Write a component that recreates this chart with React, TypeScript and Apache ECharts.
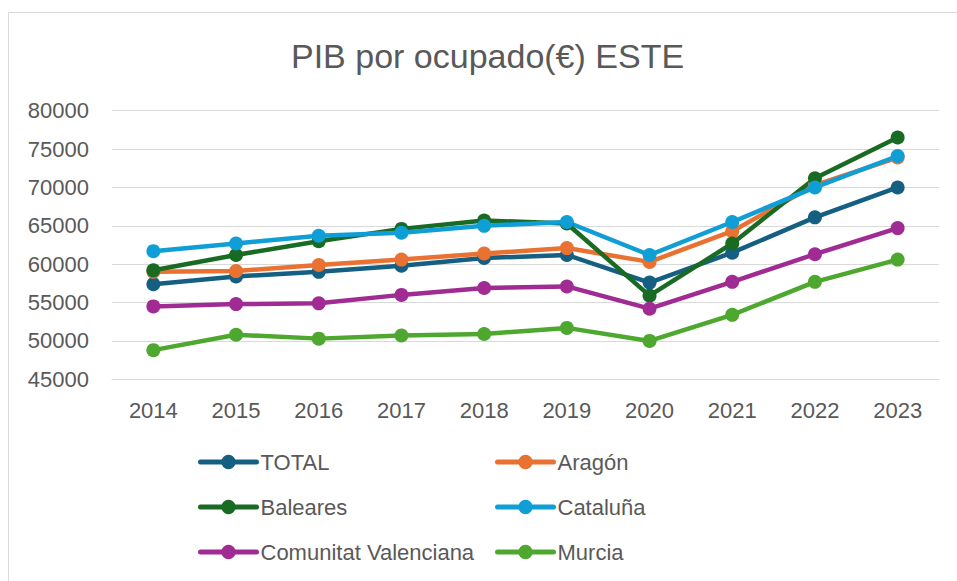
import React, { useEffect, useRef } from "react";
import * as echarts from "echarts";

const years = ["2014", "2015", "2016", "2017", "2018", "2019", "2020", "2021", "2022", "2023"];
const total = [57400, 58400, 59000, 59800, 60800, 61200, 57600, 61500, 66100, 70000];
const aragon = [59000, 59100, 59900, 60600, 61400, 62100, 60300, 64300, 70300, 73900];
const baleares = [59200, 61200, 63000, 64600, 65700, 65300, 55900, 62700, 71200, 76500];
const cataluna = [61700, 62700, 63700, 64100, 65000, 65500, 61200, 65500, 70000, 74100];
const valenciana = [54500, 54800, 54900, 56000, 56900, 57100, 54200, 57700, 61300, 64700];
const murcia = [48800, 50800, 50300, 50700, 50900, 51700, 50000, 53400, 57700, 60600];

const seriesDefs = [
  { name: "TOTAL", data: total, color: "#156082" },
  { name: "Aragón", data: aragon, color: "#E97132" },
  { name: "Baleares", data: baleares, color: "#196B24" },
  { name: "Cataluña", data: cataluna, color: "#0F9ED5" },
  { name: "Comunitat Valenciana", data: valenciana, color: "#A02B93" },
  { name: "Murcia", data: murcia, color: "#4EA72E" },
];

const FONT = "'Liberation Sans', Arial, sans-serif";
const TXT = "#595959";

export default function App() {
  const ref = useRef<HTMLDivElement>(null);
  useEffect(() => {
    if (!ref.current) return;
    const chart = echarts.init(ref.current, null, { renderer: "svg" });
    const legendCommon = {
      orient: "vertical" as const,
      top: 451,
      padding: 0,
      itemWidth: 56,
      itemHeight: 18,
      itemGap: 23,
      lineStyle: { width: 5, cap: "round" },
      textStyle: { fontFamily: FONT, fontSize: 22, color: TXT, padding: [0, 0, 0, -1] },
    };
    chart.setOption({
      animation: false,
      backgroundColor: "#ffffff",
      title: {
        text: "PIB por ocupado(€) ESTE",
        left: 291,
        top: 39,
        padding: 0,
        textStyle: { fontFamily: FONT, fontSize: 34, fontWeight: "normal", color: TXT },
      },
      graphic: [
        {
          type: "rect",
          shape: { x: 8.5, y: 12.5, width: 1200, height: 1200 },
          style: { fill: "none", stroke: "#d9d9d9", lineWidth: 1 },
          silent: true,
        },
      ],
      grid: { left: 112, right: 18, top: 110.7, bottom: 201.7, containLabel: false },
      xAxis: {
        type: "category",
        data: years,
        boundaryGap: true,
        axisLine: { show: true, lineStyle: { color: "#d9d9d9", width: 1 } },
        axisTick: { show: false },
        axisLabel: { fontFamily: FONT, fontSize: 22, color: TXT, margin: 20 },
      },
      yAxis: {
        type: "value",
        min: 45000,
        max: 80000,
        interval: 5000,
        axisLine: { show: false },
        axisTick: { show: false },
        splitLine: { lineStyle: { color: "#d9d9d9", width: 1 } },
        axisLabel: {
          fontFamily: FONT,
          fontSize: 22,
          color: TXT,
          margin: 23,
          formatter: (v: number) => String(v),
        },
      },
      legend: [
        { ...legendCommon, left: 198, data: ["TOTAL", "Baleares", "Comunitat Valenciana"] },
        { ...legendCommon, left: 495, data: ["Aragón", "Cataluña", "Murcia"] },
      ],
      series: seriesDefs.map((s) => ({
        name: s.name,
        type: "line",
        data: s.data,
        symbol: "circle",
        symbolSize: 14,
        color: s.color,
        lineStyle: { width: 4.5, color: s.color },
        itemStyle: { color: s.color },
      })),
    });
    return () => chart.dispose();
  }, []);
  return (
    <div
      ref={ref}
      style={{ position: "fixed", left: 0, top: 0, width: 957, height: 581 }}
    />
  );
}
